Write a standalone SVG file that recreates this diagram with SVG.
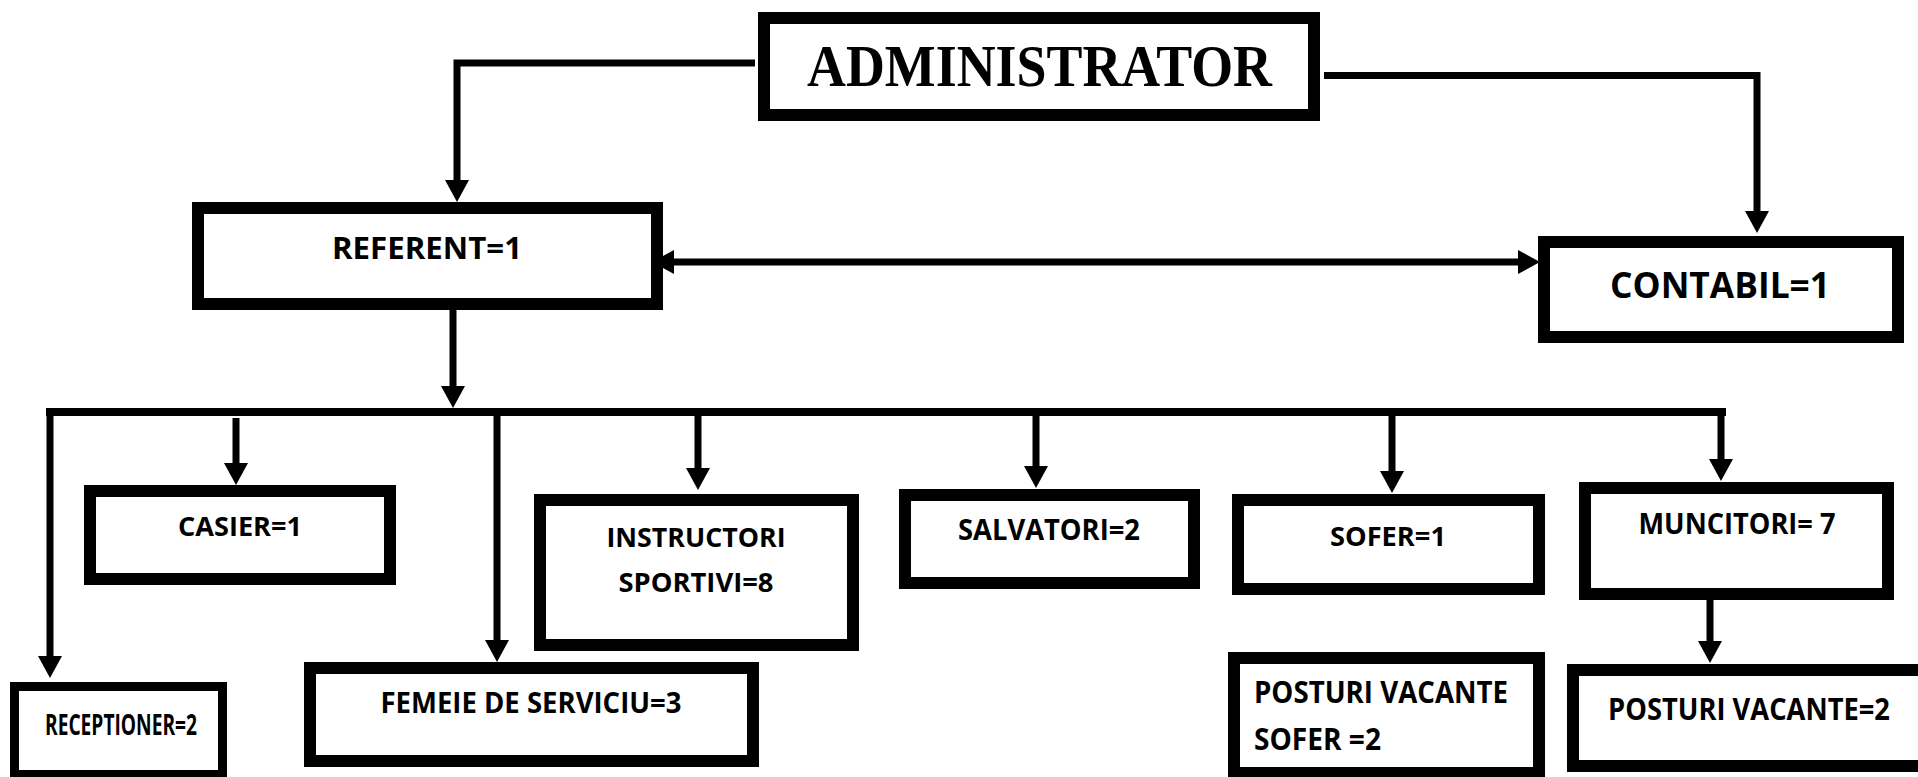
<svg xmlns="http://www.w3.org/2000/svg" width="1918" height="777" viewBox="0 0 1918 777">
<style>
.box{fill:#fff;stroke:#000;stroke-width:12}
.t{font-family:"Open Sans","Liberation Sans",sans-serif;font-weight:700;fill:#000;text-anchor:middle}
.c{fill:none;stroke:#000;stroke-width:7}
</style>
<defs>
<marker id="ah" viewBox="0 0 22 24" refX="6" refY="12" markerWidth="22" markerHeight="24" markerUnits="userSpaceOnUse" orient="auto-start-reverse">
<path d="M0,0 L22,12 L0,24 z" fill="#000"/>
</marker>
</defs>
<rect width="1918" height="777" fill="#fff"/>
<g id="connectors">
<path class="c" d="M755,63 H457 V186" marker-end="url(#ah)"/>
<path class="c" d="M1324,75.5 H1757 V217" marker-end="url(#ah)"/>
<path class="c" d="M668,262 H1524" marker-start="url(#ah)" marker-end="url(#ah)"/>
<path class="c" d="M453,310 V392" marker-end="url(#ah)"/>
<path class="c" d="M46,412 H1726" style="stroke-width:8"/>
<path class="c" d="M50,412 V662" marker-end="url(#ah)"/>
<path class="c" d="M236,418 V469" marker-end="url(#ah)"/>
<path class="c" d="M497,412 V646" marker-end="url(#ah)"/>
<path class="c" d="M698,412 V474" marker-end="url(#ah)"/>
<path class="c" d="M1036,412 V472" marker-end="url(#ah)"/>
<path class="c" d="M1392,412 V477" marker-end="url(#ah)"/>
<path class="c" d="M1721,412 V465" marker-end="url(#ah)"/>
<path class="c" d="M1710,600 V647" marker-end="url(#ah)"/>
</g>
<g id="administrator">
<rect class="box" x="764" y="18" width="550" height="97"/>
<text x="807" y="86" font-family="Liberation Serif, serif" font-weight="700" font-size="59" textLength="465" lengthAdjust="spacingAndGlyphs">ADMINISTRATOR</text>
</g>
<g id="referent">
<rect class="box" x="198" y="208" width="459" height="96"/>
<text class="t" x="427" y="259" font-size="31" textLength="190" lengthAdjust="spacingAndGlyphs">REFERENT=1</text>
</g>
<g id="contabil">
<rect class="box" x="1544" y="242" width="354" height="95"/>
<text class="t" x="1720" y="298" font-size="36" textLength="220" lengthAdjust="spacingAndGlyphs">CONTABIL=1</text>
</g>
<g id="casier">
<rect class="box" x="90" y="491" width="300" height="88"/>
<text class="t" x="240" y="536" font-size="27" textLength="124" lengthAdjust="spacingAndGlyphs">CASIER=1</text>
</g>
<g id="instructori">
<rect class="box" x="540" y="500" width="313" height="145"/>
<text class="t" x="696" y="547" font-size="27" textLength="179" lengthAdjust="spacingAndGlyphs">INSTRUCTORI</text>
<text class="t" x="696" y="592" font-size="27" textLength="155" lengthAdjust="spacingAndGlyphs">SPORTIVI=8</text>
</g>
<g id="salvatori">
<rect class="box" x="905" y="495" width="289" height="88"/>
<text class="t" x="1049" y="540" font-size="29" textLength="182" lengthAdjust="spacingAndGlyphs">SALVATORI=2</text>
</g>
<g id="sofer">
<rect class="box" x="1238" y="500" width="301" height="89"/>
<text class="t" x="1388" y="546" font-size="27" textLength="116" lengthAdjust="spacingAndGlyphs">SOFER=1</text>
</g>
<g id="muncitori">
<rect class="box" x="1585" y="488" width="303" height="106"/>
<text class="t" x="1737" y="534" font-size="29" textLength="197" lengthAdjust="spacingAndGlyphs">MUNCITORI= 7</text>
</g>
<g id="receptioner">
<rect class="box" x="14.5" y="686.5" width="208" height="88" style="stroke-width:9"/>
<text class="t" x="121" y="735" font-size="28" textLength="152" lengthAdjust="spacingAndGlyphs">RECEPTIONER=2</text>
</g>
<g id="femeie">
<rect class="box" x="310" y="668" width="443" height="93"/>
<text class="t" x="531" y="713" font-size="28" textLength="301" lengthAdjust="spacingAndGlyphs">FEMEIE DE SERVICIU=3</text>
</g>
<g id="posturi-sofer">
<rect class="box" x="1234" y="658" width="305" height="115"/>
<text class="t" x="1254" y="703" font-size="31" textLength="254" lengthAdjust="spacingAndGlyphs" style="text-anchor:start">POSTURI VACANTE</text>
<text class="t" x="1254" y="750" font-size="31" textLength="127" lengthAdjust="spacingAndGlyphs" style="text-anchor:start">SOFER =2</text>
</g>
<g id="posturi-muncitori">
<rect class="box" x="1573" y="670" width="360" height="96"/>
<text class="t" x="1749" y="720" font-size="31" textLength="282" lengthAdjust="spacingAndGlyphs">POSTURI VACANTE=2</text>
</g>
</svg>
